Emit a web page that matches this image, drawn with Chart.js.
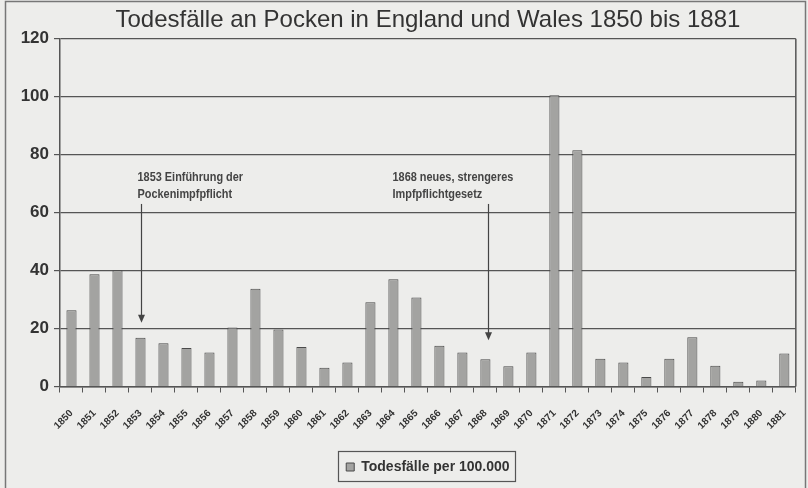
<!DOCTYPE html>
<html>
<head>
<meta charset="utf-8">
<script src="https://cdn.jsdelivr.net/npm/chart.js@4"></script>
<style>
  html, body { margin: 0; padding: 0; background: #ededeb; }
  #wrap { width: 808px; height: 488px; }
</style>
</head>
<body>
<div id="wrap"><canvas id="grafico" width="808" height="488"></canvas></div>
<script>
const jahre = ["1850","1851","1852","1853","1854","1855","1856","1857","1858","1859","1860",
  "1861","1862","1863","1864","1865","1866","1867","1868","1869","1870",
  "1871","1872","1873","1874","1875","1876","1877","1878","1879","1880","1881"];
const todesfaelle = [26.3, 38.7, 40.1, 16.8, 14.9, 13.3, 11.7, 20.4, 33.7, 19.7, 13.6,
  6.5, 8.3, 29.1, 37.0, 30.7, 14.1, 11.7, 9.4, 7.0, 11.7,
  100.5, 81.5, 9.6, 8.3, 3.3, 9.6, 17.0, 7.2, 1.6, 2.1, 11.4];
const yTicks = [0, 20, 40, 60, 80, 100, 120];

// Hinweise mit Pfeil: Jahr, Textzeilen, Pfeil von / bis (Wert auf der y-Achse)
const hinweisJahre = ["1853", "1868"];
const hinweisTexte = [
  ["1853 Einführung der", "Pockenimpfpflicht"],
  ["1868 neues, strengeres", "Impfpflichtgesetz"]
];
const pfeilStart = [63, 63];
const pfeilEnde = [22, 16];

const schrift = "'Liberation Sans', Arial, sans-serif";

const rahmenPlugin = {
  id: "rahmen",
  beforeDraw(chart) {
    const ctx = chart.ctx;
    ctx.save();
    ctx.fillStyle = "#ededeb";
    ctx.fillRect(0, 0, chart.width, chart.height);
    ctx.strokeStyle = "#777";
    ctx.lineWidth = 1.5;
    ctx.strokeRect(5.5, 1.5, 800, 500);
    ctx.restore();
  },
  afterDraw(chart) {
    const ctx = chart.ctx;
    const x = chart.scales.x, y = chart.scales.y;
    ctx.save();
    // Hinweise
    hinweisJahre.forEach((jahr, i) => {
      const px = Math.round(x.getPixelForValue(jahre.indexOf(jahr))) + 1.5 + (i === 1 ? 2 : 0);
      const y0 = y.getPixelForValue(pfeilStart[i]);
      const y1 = y.getPixelForValue(pfeilEnde[i]);
      ctx.strokeStyle = "#444";
      ctx.fillStyle = "#444";
      ctx.lineWidth = 1.2;
      ctx.beginPath();
      ctx.moveTo(px, y0);
      ctx.lineTo(px, y1 - 6);
      ctx.stroke();
      ctx.beginPath();
      ctx.moveTo(px - 3.5, y1 - 8);
      ctx.lineTo(px + 3.5, y1 - 8);
      ctx.lineTo(px, y1);
      ctx.closePath();
      ctx.fill();
      ctx.font = "bold 13px " + schrift;
      ctx.textAlign = "left";
      ctx.textBaseline = "middle";
      const tx = i === 0 ? px - 4 : px - 96;
      hinweisTexte[i].forEach((zeile, k) => {
        // etwas schmaler, wie die Narrow-Schrift im Original
        ctx.save();
        ctx.translate(tx, y0 - 27 + k * 17);
        ctx.scale(0.84, 1);
        ctx.fillText(zeile, 0, 0);
        ctx.restore();
      });
    });
    // Legendenrahmen
    const lg = chart.legend;
    if (lg && lg.legendHitBoxes.length) {
      const hb = lg.legendHitBoxes[0];
      ctx.strokeStyle = "#555";
      ctx.lineWidth = 1.2;
      ctx.strokeRect(Math.round(hb.left) - 7.5, Math.round(hb.top) - 8.5, Math.round(hb.width) + 14, Math.round(hb.height) + 16);
    }
    ctx.restore();
  }
};

new Chart(document.getElementById("grafico"), {
  type: "bar",
  data: {
    labels: jahre,
    datasets: [{
      label: "Todesfälle per 100.000",
      data: todesfaelle,
      backgroundColor: "#a3a3a1",
      borderColor: "#4a4a4a",
      borderWidth: 1,
      barPercentage: 0.44,
      categoryPercentage: 1.0
    }]
  },
  options: {
    responsive: false,
    animation: false,
    layout: { padding: { left: 0, right: 11, top: 0, bottom: 4 } },
    plugins: {
      title: {
        display: true,
        fullSize: false,
        text: "Todesfälle an Pocken in England und Wales 1850 bis 1881",
        color: "#333",
        font: { family: schrift, size: 24, weight: "normal" },
        padding: { top: 6, bottom: 4 }
      },
      legend: {
        position: "bottom",
        fullSize: false,
        labels: {
          color: "#333",
          font: { family: schrift, size: 14, weight: "bold" },
          boxWidth: 8,
          boxHeight: 8,
          padding: 8
        }
      },
      tooltip: { enabled: false }
    },
    scales: {
      x: {
        grid: { display: true, offset: true, drawOnChartArea: false, drawTicks: true, tickLength: 6, color: "#555", lineWidth: 1 },
        border: { display: true, color: "#555", width: 1.5 },
        ticks: {
          color: "#333",
          font: { family: schrift, size: 10, weight: "bold" },
          minRotation: 45,
          maxRotation: 45,
          autoSkip: false,
          padding: 15
        },
        afterFit(scale) { scale.height = 65.5; }
      },
      y: {
        min: 0,
        max: 120,
        afterBuildTicks(scale) { scale.ticks = yTicks.map(v => ({ value: v })); },
        grid: { color: "#555", lineWidth: 1.2, tickLength: 6 },
        border: { display: true, color: "#555", width: 1.5 },
        ticks: {
          color: "#333",
          font: { family: schrift, size: 17, weight: "bold" },
          padding: 5
        },
        afterFit(scale) { scale.width = 60; }
      }
    }
  },
  plugins: [rahmenPlugin, {
    id: "rechterRand",
    afterDatasetsDraw(chart) {
      const a = chart.chartArea, ctx = chart.ctx;
      ctx.save();
      ctx.strokeStyle = "#555";
      ctx.lineWidth = 1.5;
      ctx.beginPath();
      ctx.moveTo(a.right, a.top);
      ctx.lineTo(a.right, a.bottom);
      ctx.stroke();
      ctx.restore();
    }
  }]
});
</script>
</body>
</html>
